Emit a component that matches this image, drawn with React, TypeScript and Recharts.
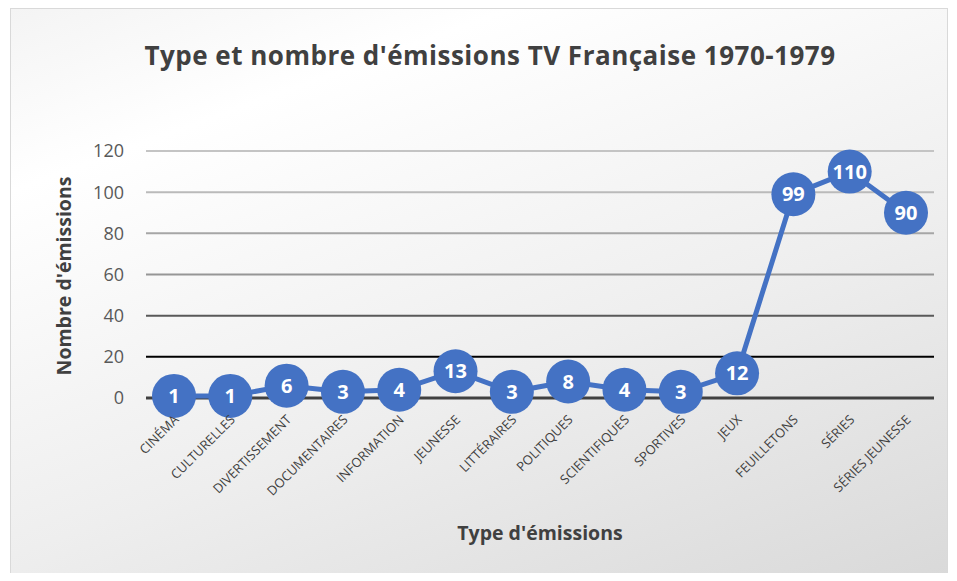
import React from "react";
import { LineChart, Line, XAxis, YAxis, ReferenceLine, LabelList } from "recharts";

const categories = [
  "CINÉMA", "CULTURELLES", "DIVERTISSEMENT", "DOCUMENTAIRES", "INFORMATION", "JEUNESSE",
  "LITTÉRAIRES", "POLITIQUES", "SCIENTIFIQUES", "SPORTIVES", "JEUX", "FEUILLETONS",
  "SÉRIES", "SÉRIES JEUNESSE",
];
const values = [1, 1, 6, 3, 4, 13, 3, 8, 4, 3, 12, 99, 110, 90];
const yTicks = [0, 20, 40, 60, 80, 100, 120];
const gridColors = ["#404040", "#000000", "#595959", "#969696", "#a6a6a6", "#bababa", "#c4c4c4"];

const title = "Type et nombre d'émissions TV Française 1970-1979";
const yTitle = "Nombre d'émissions";
const xTitle = "Type d'émissions";

const data = categories.map((c, i) => ({ name: c, value: values[i] }));

const FONT = "'Open Sans', sans-serif";

export default function App() {
  return (
    <div style={{ position: "relative", width: 957, height: 581, margin: -8, overflow: "hidden", background: "#fff" }}>
      <div
        style={{
          position: "absolute",
          left: 10,
          top: 8,
          width: 936,
          height: 570,
          border: "1px solid #d9d9d9",
          background: "linear-gradient(160deg, #f4f4f4 0%, #ffffff 20%, #eeeeee 60%, #d9d9d9 100%)",
        }}
      />
      <div
        style={{
          position: "absolute",
          left: 0,
          width: 980,
          top: 38,
          textAlign: "center",
          fontFamily: FONT,
          fontWeight: 700,
          fontSize: 26,
          color: "#404040",
          lineHeight: "34px",
          letterSpacing: 0.5,
        }}
      >
        {title}
      </div>
      <div
        style={{
          position: "absolute",
          left: 63,
          top: 276,
          transform: "translate(-50%, -50%) rotate(-90deg)",
          fontFamily: FONT,
          fontWeight: 700,
          fontSize: 19.5,
          color: "#404040",
          whiteSpace: "nowrap",
        }}
      >
        {yTitle}
      </div>
      <div
        style={{
          position: "absolute",
          left: 540,
          top: 532,
          transform: "translate(-50%, -50%)",
          fontFamily: FONT,
          fontWeight: 700,
          fontSize: 19.5,
          color: "#404040",
          whiteSpace: "nowrap",
        }}
      >
        {xTitle}
      </div>
      <div style={{ position: "absolute", left: 0, top: 0 }}>
        <LineChart width={957} height={581} data={data} margin={{ top: 151, right: 23, bottom: 63, left: 86 }}>
          {yTicks.map((t, i) => (
            <ReferenceLine key={t} y={t} stroke={gridColors[i]} strokeWidth={i === 0 ? 3 : 2} ifOverflow="extendDomain" />
          ))}
          <XAxis
            dataKey="name"
            interval={0}
            padding={{ left: 28, right: 28 }}
            axisLine={false}
            tickLine={false}
            tickSize={0}
            tickMargin={16}
            height={120}
            angle={-45}
            textAnchor="end"
            dx={-1}
            tick={{ fontSize: 13, fill: "#404040", fontFamily: FONT }}
          />
          <YAxis
            width={60}
            domain={[0, 120]}
            ticks={yTicks}
            axisLine={false}
            tickLine={false}
            tickSize={0}
            tickMargin={22}
            tick={{ fontSize: 18, fill: "#595959", fontFamily: FONT }}
          />
          <Line
            type="linear"
            dataKey="value"
            stroke="#4472C4"
            strokeWidth={5}
            isAnimationActive={false}
            dot={{ r: 22, fill: "#4472C4", stroke: "#4472C4", strokeWidth: 0 }}
          >
            <LabelList
              dataKey="value"
              position="center"
              fill="#ffffff"
              fontSize={20}
              fontWeight={700}
              fontFamily={FONT}
            />
          </Line>
        </LineChart>
      </div>
    </div>
  );
}
